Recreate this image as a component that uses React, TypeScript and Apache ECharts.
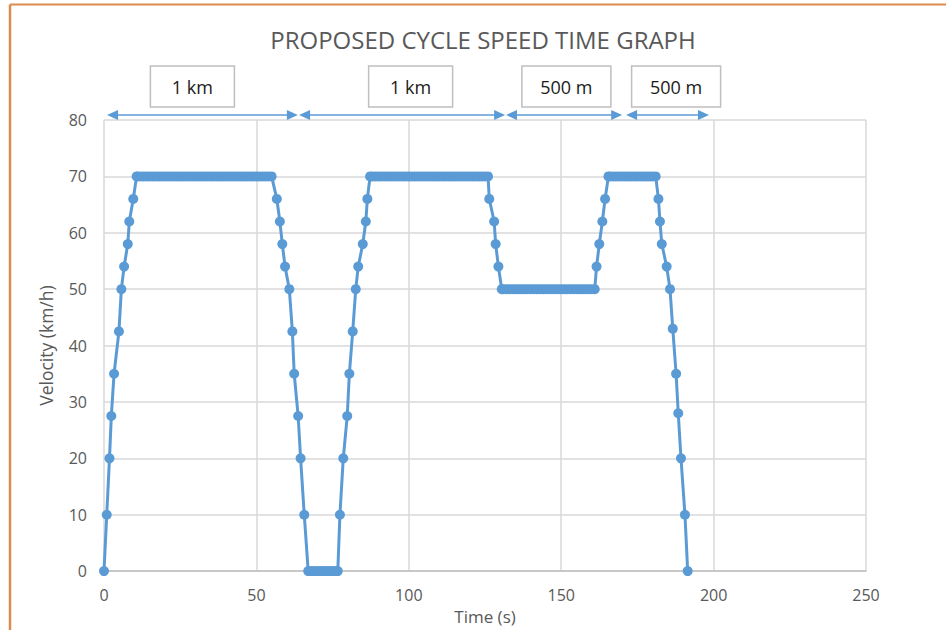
import React, { useEffect, useRef } from "react";
import * as echarts from "echarts";

// Speed-time profile of the proposed cycle (time in s, speed in km/h)
const accel1Time = [0, 0.9, 1.8, 2.4, 3.3, 4.9, 5.7, 6.6, 7.8, 8.3, 9.6, 10.7];
const accel1Speed = [0, 10, 20, 27.5, 35, 42.5, 50, 54, 58, 62, 66, 70];

const cruise1Time = [
  11, 12, 13, 14, 15, 16, 17, 18, 19, 20, 21, 22, 23, 24, 25, 26, 27, 28, 29, 30,
  31, 32, 33, 34, 35, 36, 37, 38, 39, 40, 41, 42, 43, 44, 45, 46, 47, 48, 49, 50,
  51, 52, 53, 54, 55,
];
const cruise1Speed = 70;

const decel1Time = [56.7, 57.7, 58.5, 59.4, 60.8, 61.8, 62.4, 63.7, 64.5, 65.7, 67.0];
const decel1Speed = [66, 62, 58, 54, 50, 42.5, 35, 27.5, 20, 10, 0];

const stopTime = [68, 69, 70, 71, 72, 73, 74, 75, 76, 76.7];
const stopSpeed = 0;

const accel2Time = [77.4, 78.5, 79.8, 80.5, 81.6, 82.6, 83.4, 84.9, 85.9, 86.4, 87.3];
const accel2Speed = [10, 20, 27.5, 35, 42.5, 50, 54, 58, 62, 66, 70];

const cruise2Time = [
  88, 89, 90, 91, 92, 93, 94, 95, 96, 97, 98, 99, 100, 101, 102, 103, 104, 105, 106,
  107, 108, 109, 110, 111, 112, 113, 114, 115, 116, 117, 118, 119, 120, 121, 122, 123,
  124, 125, 126,
];
const cruise2Speed = 70;

const decel2Time = [126.4, 128.0, 128.5, 129.4, 130.5];
const decel2Speed = [66, 62, 58, 54, 50];

const cruise3Time = [
  131, 132, 133, 134, 135, 136, 137, 138, 139, 140, 141, 142, 143, 144, 145, 146, 147,
  148, 149, 150, 151, 152, 153, 154, 155, 156, 157, 158, 159, 160, 161,
];
const cruise3Speed = 50;

const accel3Time = [161.6, 162.5, 163.5, 164.4, 165.5];
const accel3Speed = [54, 58, 62, 66, 70];

const cruise4Time = [166, 167, 168, 169, 170, 171, 172, 173, 174, 175, 176, 177, 178, 179, 180, 181];
const cruise4Speed = 70;

const decel3Time = [181.9, 182.4, 183.0, 184.6, 185.7, 186.6, 187.7, 188.4, 189.3, 190.6, 191.5];
const decel3Speed = [66, 62, 58, 54, 50, 43, 35, 28, 20, 10, 0];

// Distance spans marked above the plot (in seconds along the time axis)
const spanLabels = ["1 km", "1 km", "500 m", "500 m"];
const spanStart = [1, 64, 131.9, 171.3];
const spanEnd = [63.6, 131.6, 170, 198.5];
const spanLabelAt = [29, 100.6, 151.7, 187.7];

const xTicks = [0, 50, 100, 150, 200, 250];
const yTicks = [0, 10, 20, 30, 40, 50, 60, 70, 80];

const BLUE = "#5b9bd5";
const TEXT = "#595959";
const FONT = "'Open Sans', sans-serif";

function pairs(times: number[], speeds: number[] | number): [number, number][] {
  return times.map((t, i) => [t, Array.isArray(speeds) ? speeds[i] : speeds]);
}

const profile: [number, number][] = [
  ...pairs(accel1Time, accel1Speed),
  ...pairs(cruise1Time, cruise1Speed),
  ...pairs(decel1Time, decel1Speed),
  ...pairs(stopTime, stopSpeed),
  ...pairs(accel2Time, accel2Speed),
  ...pairs(cruise2Time, cruise2Speed),
  ...pairs(decel2Time, decel2Speed),
  ...pairs(cruise3Time, cruise3Speed),
  ...pairs(accel3Time, accel3Speed),
  ...pairs(cruise4Time, cruise4Speed),
  ...pairs(decel3Time, decel3Speed),
];

export default function App() {
  const ref = useRef<HTMLDivElement>(null);

  useEffect(() => {
    if (!ref.current) return;
    const chart = echarts.init(ref.current, undefined, { renderer: "svg" });

    chart.setOption({
      animation: false,
      backgroundColor: "#ffffff",
      title: {
        text: "PROPOSED CYCLE SPEED TIME GRAPH",
        left: 478,
        top: 22,
        textAlign: "center",
        textStyle: { fontFamily: FONT, fontSize: 24, fontWeight: "normal", color: TEXT },
      },
      grid: { left: 104, right: 80, top: 120, bottom: 56, containLabel: false },
      xAxis: {
        type: "value",
        min: xTicks[0],
        max: xTicks[xTicks.length - 1],
        interval: xTicks[1] - xTicks[0],
        name: "Time (s)",
        nameLocation: "middle",
        nameGap: 30,
        nameTextStyle: { fontFamily: FONT, fontSize: 17, color: TEXT },
        axisLine: { show: true, lineStyle: { color: "#bfbfbf", width: 1.5 } },
        axisTick: { show: false },
        axisLabel: { fontFamily: FONT, fontSize: 16, color: TEXT, margin: 16 },
        splitLine: { show: true, lineStyle: { color: "#d9d9d9", width: 1.5 } },
      },
      yAxis: {
        type: "value",
        min: yTicks[0],
        max: yTicks[yTicks.length - 1],
        interval: yTicks[1] - yTicks[0],
        name: "Velocity (km/h)",
        nameLocation: "middle",
        nameGap: 49,
        nameRotate: 90,
        nameTextStyle: { fontFamily: FONT, fontSize: 17.5, color: TEXT },
        axisLine: { show: false },
        axisTick: { show: false },
        axisLabel: { fontFamily: FONT, fontSize: 16, color: TEXT, margin: 17 },
        splitLine: { show: true, lineStyle: { color: "#d9d9d9", width: 1.5 } },
      },
      series: [
        {
          type: "line",
          data: profile,
          symbol: "circle",
          symbolSize: 10,
          showAllSymbol: true,
          lineStyle: { color: BLUE, width: 3 },
          itemStyle: { color: BLUE },
          clip: false,
        },
      ],
    });

    // Distance arrows and their labels, placed through the time axis
    const yArrow = 115;
    const head = 11;
    const half = 5;
    const elements: any[] = [
      // frame edges of the chart area
      { type: "line", shape: { x1: 10, y1: 4.5, x2: 946, y2: 4.5 }, style: { stroke: "#dd8a4f", lineWidth: 2 } },
      { type: "line", shape: { x1: 10, y1: 4.5, x2: 10, y2: 630 }, style: { stroke: "#dd8a4f", lineWidth: 2.5 } },
    ];
    spanLabels.forEach((label, i) => {
      const x1 = chart.convertToPixel({ xAxisIndex: 0 }, spanStart[i]) as number;
      const x2 = chart.convertToPixel({ xAxisIndex: 0 }, spanEnd[i]) as number;
      const xc = chart.convertToPixel({ xAxisIndex: 0 }, spanLabelAt[i]) as number;
      elements.push(
        {
          type: "line",
          shape: { x1: x1 + head - 1, y1: yArrow, x2: x2 - head + 1, y2: yArrow },
          style: { stroke: BLUE, lineWidth: 1.5 },
        },
        {
          type: "polygon",
          shape: { points: [[x1, yArrow], [x1 + head, yArrow - half], [x1 + head, yArrow + half]] },
          style: { fill: BLUE },
        },
        {
          type: "polygon",
          shape: { points: [[x2, yArrow], [x2 - head, yArrow - half], [x2 - head, yArrow + half]] },
          style: { fill: BLUE },
        }
      );
      const w = label.length > 4 ? 89 : 84;
      elements.push(
        {
          type: "rect",
          shape: { x: xc - w / 2, y: 66, width: w, height: 41 },
          style: { fill: "#ffffff", stroke: "#bfbfbf", lineWidth: 1.5 },
        },
        {
          type: "text",
          x: xc,
          y: 87,
          style: {
            text: label,
            fontFamily: FONT,
            fontSize: 18,
            fill: "#1a1a1a",
            textAlign: "center",
            textVerticalAlign: "middle",
          },
        }
      );
    });
    chart.setOption({ graphic: { elements } });

    return () => chart.dispose();
  }, []);

  return (
    <div
      ref={ref}
      style={{ position: "fixed", left: 0, top: 0, width: 946, height: 630, background: "#ffffff" }}
    />
  );
}
